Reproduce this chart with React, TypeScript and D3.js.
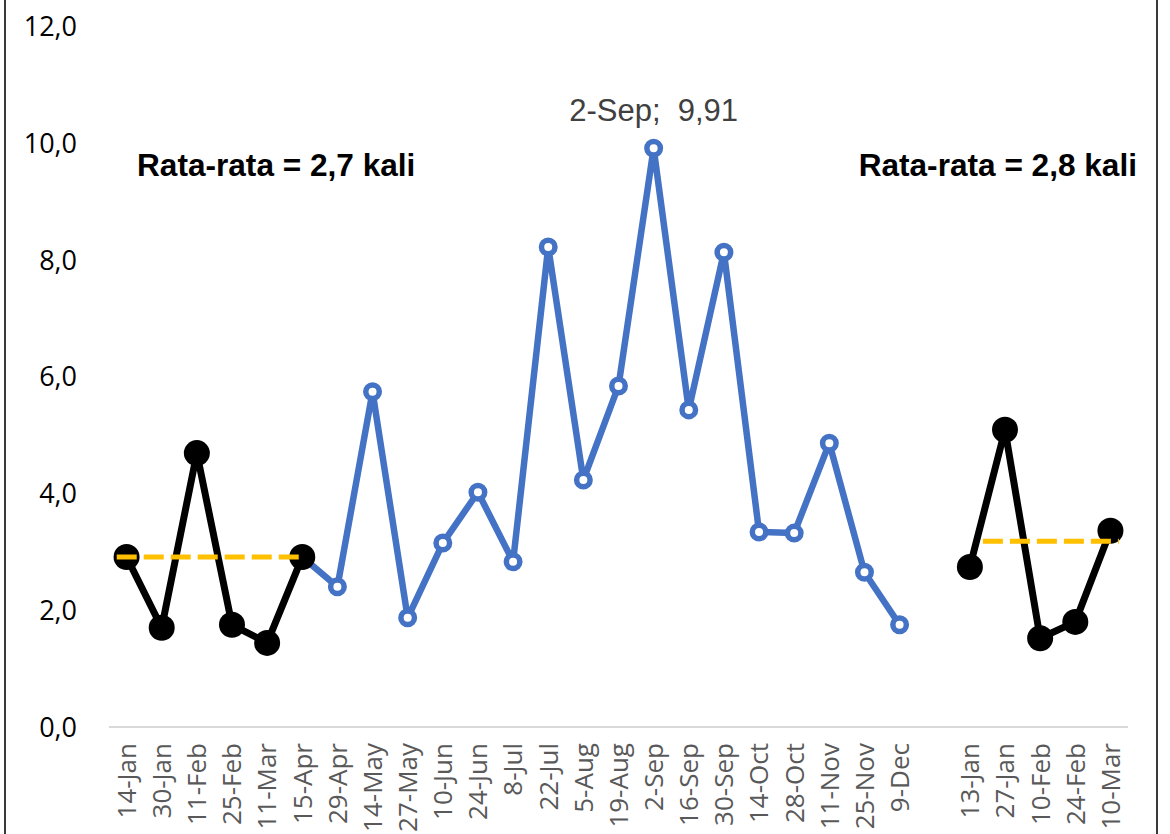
import React from "react";
import * as d3 from "d3";

const categories = [
  "14-Jan", "30-Jan", "11-Feb", "25-Feb", "11-Mar", "15-Apr", "29-Apr", "14-May",
  "27-May", "10-Jun", "24-Jun", "8-Jul", "22-Jul", "5-Aug", "19-Aug", "2-Sep",
  "16-Sep", "30-Sep", "14-Oct", "28-Oct", "11-Nov", "25-Nov", "9-Dec", "",
  "13-Jan", "27-Jan", "10-Feb", "24-Feb", "10-Mar",
];

// black period 1 (before)
const period1Cats = ["14-Jan", "30-Jan", "11-Feb", "25-Feb", "11-Mar", "15-Apr"];
const period1Vals = [2.91, 1.70, 4.69, 1.75, 1.44, 2.91];

// blue middle series
const blueCats = [
  "15-Apr", "29-Apr", "14-May", "27-May", "10-Jun", "24-Jun", "8-Jul", "22-Jul",
  "5-Aug", "19-Aug", "2-Sep", "16-Sep", "30-Sep", "14-Oct", "28-Oct", "11-Nov",
  "25-Nov", "9-Dec",
];
const blueVals = [
  2.91, 2.40, 5.74, 1.87, 3.15, 4.02, 2.83, 8.22, 4.23, 5.84, 9.91, 5.43, 8.13,
  3.34, 3.32, 4.86, 2.65, 1.75,
];

// black period 2 (after)
const period2Cats = ["13-Jan", "27-Jan", "10-Feb", "24-Feb", "10-Mar"];
const period2Vals = [2.74, 5.09, 1.52, 1.80, 3.36];

// average reference lines (category index span, value)
const avgStart = [-0.28, 24.37];
const avgEnd = [5.0, 28.24];
const avgVals = [2.91, 3.18];

const yTicks = [0, 2, 4, 6, 8, 10, 12];
const avgLabels = ["Rata-rata = 2,7 kali", "Rata-rata = 2,8 kali"];
const peakLabel = "2-Sep;  9,91";
const peakCat = "2-Sep";

const W = 1170;
const H = 834;

export default function App() {
  const x = d3.scalePoint<string>().domain(categories).range([109, 1128]).padding(0.5);
  const step = x.step();
  const xi = (i: number) => 109 + step * (i + 0.5);
  const y = d3.scaleLinear().domain([0, 12]).range([727, 26.2]);

  const line = d3
    .line<[string, number]>()
    .x((d) => x(d[0]) as number)
    .y((d) => y(d[1]));

  const p1 = period1Cats.map((c, i) => [c, period1Vals[i]] as [string, number]);
  const p2 = period2Cats.map((c, i) => [c, period2Vals[i]] as [string, number]);
  const bl = blueCats.map((c, i) => [c, blueVals[i]] as [string, number]);

  const peakIdx = blueCats.indexOf(peakCat);

  return (
    <svg
      width={W}
      height={H}
      style={{ position: "absolute", left: 0, top: 0, background: "#fff" }}
    >
      <rect x={0} y={0} width={W} height={H} fill="#fff" />
      {/* frame */}
      <line x1={5} x2={5} y1={0} y2={H} stroke="#3a3a3a" strokeWidth={2} />
      <line x1={1157} x2={1157} y1={0} y2={H} stroke="#3a3a3a" strokeWidth={2} />

      {/* y tick labels */}
      {yTicks.map((t) => (
        <text
          key={t}
          x={77}
          y={y(t)}
          dy="0.36em"
          textAnchor="end"
          fontFamily="'Open Sans', sans-serif"
          fontSize={27}
          fill="#000"
        >
          {t.toFixed(1).replace(".", ",")}
        </text>
      ))}

      {/* x axis */}
      <line x1={109} x2={1128} y1={y(0)} y2={y(0)} stroke="#d9d9d9" strokeWidth={2} />
      {categories.map((c, i) =>
        c ? (
          <text
            key={i}
            transform={`translate(${x(c)},743) rotate(-90)`}
            dy="0.36em"
            textAnchor="end"
            fontFamily="'Open Sans', sans-serif"
            fontSize={26}
            fill="#595959"
          >
            {c}
          </text>
        ) : null
      )}

      {/* blue series */}
      <path d={line(bl) || ""} fill="none" stroke="#4472C4" strokeWidth={6.5} strokeLinejoin="round" />
      {bl.map((d, i) => (
        <circle
          key={i}
          cx={x(d[0])}
          cy={y(d[1])}
          r={6.75}
          fill="#fff"
          stroke="#4472C4"
          strokeWidth={5.5}
        />
      ))}

      {/* black series */}
      {[p1, p2].map((p, k) => (
        <g key={k}>
          <path d={line(p) || ""} fill="none" stroke="#000" strokeWidth={7} strokeLinejoin="round" />
          {p.map((d, i) => (
            <circle key={i} cx={x(d[0])} cy={y(d[1])} r={13} fill="#000" />
          ))}
        </g>
      ))}

      {/* average lines */}
      {avgVals.map((v, i) => (
        <line
          key={i}
          x1={xi(avgStart[i])}
          x2={xi(avgEnd[i])}
          y1={y(v)}
          y2={y(v)}
          stroke="#FFC000"
          strokeWidth={5}
          strokeDasharray="20,7"
        />
      ))}

      {/* labels */}
      <text
        x={137}
        y={176}
        fontFamily="'Liberation Sans', Arial, sans-serif"
        fontWeight="bold"
        fontSize={31.6}
        fill="#000"
      >
        {avgLabels[0]}
      </text>
      <text
        x={1137}
        y={176}
        textAnchor="end"
        fontFamily="'Liberation Sans', Arial, sans-serif"
        fontWeight="bold"
        fontSize={31.6}
        fill="#000"
      >
        {avgLabels[1]}
      </text>
      <text
        x={x(peakCat)}
        y={y(blueVals[peakIdx]) - 27}
        textAnchor="middle"
        fontFamily="'Liberation Sans', Arial, sans-serif"
        fontSize={31}
        fill="#404040"
        style={{ whiteSpace: "pre" }}
      >
        {peakLabel}
      </text>
    </svg>
  );
}
